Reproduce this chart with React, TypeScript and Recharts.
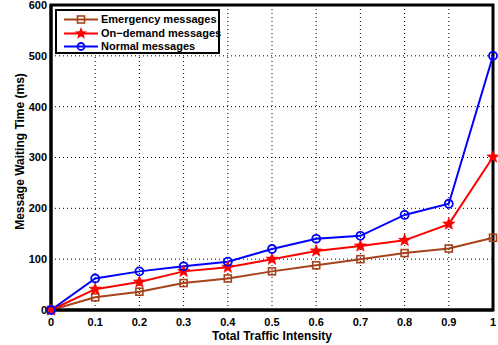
import React from "react";
import { LineChart, Line, XAxis, YAxis, CartesianGrid, ReferenceArea } from "recharts";

// Traffic intensity levels on the x axis
const intensity = [0, 0.1, 0.2, 0.3, 0.4, 0.5, 0.6, 0.7, 0.8, 0.9, 1];

// Waiting time (ms) per message class
const emergency = [0, 25, 36, 53, 62, 76, 88, 100, 112, 121, 142];
const onDemand = [0, 41, 55, 76, 84, 100, 116, 126, 137, 169, 301];
const normal = [0, 62, 76, 86, 95, 120, 140, 146, 187, 209, 500];

const xTicks = [0, 0.1, 0.2, 0.3, 0.4, 0.5, 0.6, 0.7, 0.8, 0.9, 1];
const yTicks = [0, 100, 200, 300, 400, 500, 600];

const BROWN = "#a5421a";
const RED = "#ff0000";
const BLUE = "#0000ff";
const FONT = "'Liberation Sans', Arial, Helvetica, sans-serif";

const data = intensity.map((x, i) => ({
  x,
  emergency: emergency[i],
  onDemand: onDemand[i],
  normal: normal[i],
}));

const starPath = (cx: number, cy: number, R: number, r: number) => {
  const pts: string[] = [];
  for (let k = 0; k < 10; k++) {
    const rad = k % 2 === 0 ? R : r;
    const a = -Math.PI / 2 + (k * Math.PI) / 5;
    pts.push(`${cx + rad * Math.cos(a)},${cy + rad * Math.sin(a)}`);
  }
  return `M${pts.join("L")}Z`;
};

const SquareDot = (props: any) => {
  const { cx, cy, index } = props;
  if (cx == null || cy == null) return null;
  return (
    <rect
      key={`sq-${index}`}
      x={cx - 3.5}
      y={cy - 3.5}
      width={7}
      height={7}
      fill="none"
      stroke={BROWN}
      strokeWidth={1.6}
    />
  );
};

const StarDot = (props: any) => {
  const { cx, cy, index } = props;
  if (cx == null || cy == null) return null;
  return <path key={`st-${index}`} d={starPath(cx, cy, 6.5, 2.8)} fill={RED} stroke={RED} strokeWidth={0.5} />;
};

const CircleDot = (props: any) => {
  const { cx, cy, index } = props;
  if (cx == null || cy == null) return null;
  return <circle key={`ci-${index}`} cx={cx} cy={cy} r={4} fill="none" stroke={BLUE} strokeWidth={1.8} />;
};

const legendItems = [
  { name: "Emergency messages", color: BROWN, marker: "square" },
  { name: "On\u2212demand messages", color: RED, marker: "star" },
  { name: "Normal messages", color: BLUE, marker: "circle" },
];

const LegendBox = () => (
  <div
    style={{
      position: "absolute",
      left: 55,
      top: 9,
      border: "2.5px solid #000",
      background: "#fff",
      width: 165,
      height: 45,
      boxSizing: "border-box",
      padding: "2px 0 0 6px",
    }}
  >
    {legendItems.map((it) => (
      <div
        key={it.name}
        style={{ display: "flex", alignItems: "center", height: 13.5, whiteSpace: "nowrap" }}
      >
        <svg width={36} height={13} style={{ display: "block", flex: "none" }}>
          <line x1={1} y1={6.5} x2={35} y2={6.5} stroke={it.color} strokeWidth={2} />
          {it.marker === "square" && (
            <rect x={14.5} y={3} width={7} height={7} fill="none" stroke={it.color} strokeWidth={1.6} />
          )}
          {it.marker === "star" && <path d={starPath(18, 6.5, 6.5, 2.8)} fill={it.color} />}
          {it.marker === "circle" && (
            <circle cx={18} cy={6.5} r={3.5} fill="none" stroke={it.color} strokeWidth={1.8} />
          )}
        </svg>
        <span
          style={{
            fontFamily: FONT,
            fontWeight: "bold",
            fontSize: 11,
            color: "#000",
            marginLeft: 2,
            lineHeight: "13px",
          }}
        >
          {it.name}
        </span>
      </div>
    ))}
  </div>
);

const tickStyle = { fontFamily: FONT, fontWeight: "bold", fontSize: 11, fill: "#000" };
const tickLineStyle = { stroke: "#000", strokeWidth: 1.5 };
const frameLine = { stroke: "#000", strokeWidth: 3 };

const XLabel = (props: any) => {
  const { viewBox } = props;
  return (
    <text
      x={viewBox.x + viewBox.width / 2}
      y={viewBox.y + 30}
      textAnchor="middle"
      style={{ fontFamily: FONT, fontWeight: "bold", fontSize: 12 }}
      fill="#000"
    >
      Total Traffic Intensity
    </text>
  );
};

const YLabel = (props: any) => {
  const { viewBox } = props;
  const x = 24;
  const y = viewBox.y + viewBox.height / 2 - 6;
  return (
    <text
      x={x}
      y={y}
      transform={`rotate(-90, ${x}, ${y})`}
      textAnchor="middle"
      style={{ fontFamily: FONT, fontWeight: "bold", fontSize: 12 }}
      fill="#000"
    >
      Message Waiting Time (ms)
    </text>
  );
};

const blank = () => "";

export default function App() {
  return (
    <div style={{ position: "absolute", left: 0, top: 0, width: 498, height: 345, background: "#fff" }}>
      <LineChart
        width={498}
        height={345}
        data={data}
        margin={{ top: 5, right: 5, bottom: 0, left: 11 }}
      >
        <CartesianGrid stroke="#000" strokeDasharray="1 3" strokeWidth={1} />
        {/* inward tick marks on the bottom and left edges */}
        <XAxis
          xAxisId="bottomTicks"
          dataKey="x"
          type="number"
          domain={[0, 1]}
          ticks={xTicks}
          height={0}
          mirror
          axisLine={false}
          tickLine={tickLineStyle}
          tickSize={5}
          tickFormatter={blank}
          interval={0}
        />
        <YAxis
          yAxisId="leftTicks"
          type="number"
          domain={[0, 600]}
          ticks={yTicks}
          width={0}
          mirror
          axisLine={false}
          tickLine={tickLineStyle}
          tickSize={5}
          tickFormatter={blank}
          interval={0}
        />
        <XAxis
          dataKey="x"
          type="number"
          domain={[0, 1]}
          ticks={xTicks}
          height={35}
          axisLine={frameLine}
          tickLine={false}
          tickSize={0}
          tickMargin={8}
          tick={tickStyle}
          interval={0}
          label={<XLabel />}
        />
        <YAxis
          type="number"
          domain={[0, 600]}
          ticks={yTicks}
          width={40}
          axisLine={frameLine}
          tickLine={false}
          tickSize={0}
          tickMargin={4}
          tick={tickStyle}
          interval={0}
          label={<YLabel />}
        />
        <XAxis
          xAxisId="top"
          dataKey="x"
          type="number"
          orientation="top"
          domain={[0, 1]}
          ticks={xTicks}
          height={0}
          mirror
          axisLine={frameLine}
          tickLine={tickLineStyle}
          tickSize={5}
          tickFormatter={blank}
          interval={0}
        />
        <YAxis
          yAxisId="right"
          type="number"
          orientation="right"
          domain={[0, 600]}
          ticks={yTicks}
          width={0}
          mirror
          axisLine={frameLine}
          tickLine={tickLineStyle}
          tickSize={5}
          tickFormatter={blank}
          interval={0}
        />
        {/* invisible series that bind the frame axes */}
        <Line
          xAxisId="top"
          yAxisId="right"
          dataKey="normal"
          stroke="none"
          dot={false}
          activeDot={false}
          legendType="none"
          isAnimationActive={false}
        />
        <Line
          xAxisId="bottomTicks"
          yAxisId="leftTicks"
          dataKey="normal"
          stroke="none"
          dot={false}
          activeDot={false}
          legendType="none"
          isAnimationActive={false}
        />
        <ReferenceArea
          x1={0}
          x2={1}
          y1={0}
          y2={600}
          fill="none"
          stroke="#000"
          strokeWidth={3}
          ifOverflow="visible"
        />
        <Line
          type="linear"
          dataKey="emergency"
          name="Emergency messages"
          stroke={BROWN}
          strokeWidth={2}
          dot={<SquareDot />}
          isAnimationActive={false}
        />
        <Line
          type="linear"
          dataKey="onDemand"
          name="On-demand messages"
          stroke={RED}
          strokeWidth={2}
          dot={<StarDot />}
          isAnimationActive={false}
        />
        <Line
          type="linear"
          dataKey="normal"
          name="Normal messages"
          stroke={BLUE}
          strokeWidth={2}
          dot={<CircleDot />}
          isAnimationActive={false}
        />
      </LineChart>
      <LegendBox />
    </div>
  );
}
